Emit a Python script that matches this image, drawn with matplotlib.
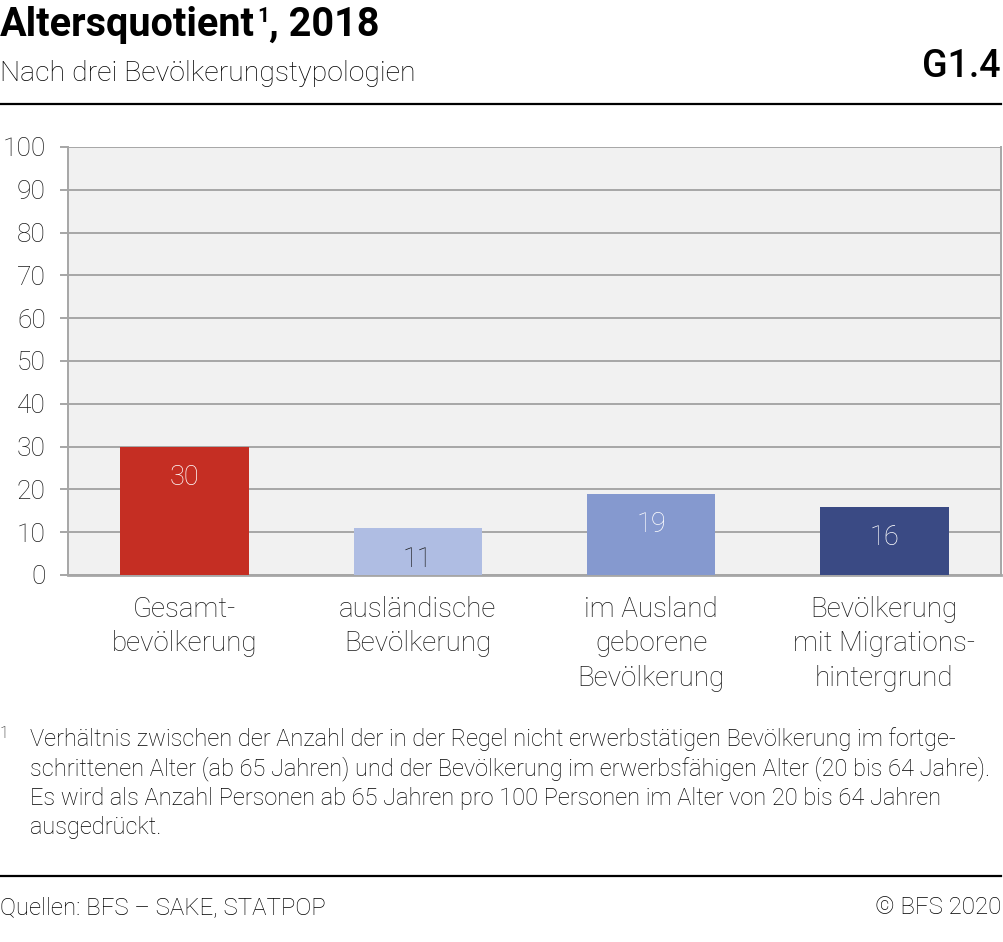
import matplotlib.pyplot as plt
import numpy as np

plt.rcParams['font.family'] = ['Roboto', 'DejaVu Sans']

categories = ["Gesamt-\nbevölkerung", "ausländische\nBevölkerung",
              "im Ausland\ngeborene\nBevölkerung", "Bevölkerung\nmit Migrations-\nhintergrund"]
values = [30, 11, 19, 16]
bar_colors = ["#c52e23", "#afbde3", "#8599cf", "#3a4a84"]
label_colors = ["white", "#1a1a1a", "white", "white"]
yticks = [0, 10, 20, 30, 40, 50, 60, 70, 80, 90, 100]

W, H = 1004, 942
fig = plt.figure(figsize=(W / 100, H / 100), dpi=100)
ax = fig.add_axes([68 / W, 1 - 575 / H, (1001 - 68) / W, (575 - 147) / H])

grey = "#a6a6a6"
ax.set_facecolor("#f1f1f1")
ax.set_ylim(0, 100)
ax.set_xlim(-0.5, len(values) - 0.5)
ax.set_yticks(yticks)
ax.yaxis.grid(True, color=grey, linewidth=1.4)
ax.set_axisbelow(True)
for s in ax.spines.values():
    s.set_color(grey)
    s.set_linewidth(1.4)
ax.spines['top'].set_visible(False)
ax.spines['bottom'].set_linewidth(2)
ax.tick_params(axis='y', length=6, width=1.4, color=grey, labelsize=19, pad=10,
               labelcolor="#1a1a1a")
for t in ax.get_yticklabels():
    t.set_fontweight('light')
ax.set_xticks(range(len(categories)))
ax.set_xticklabels(categories, fontsize=20, fontweight='light', color="#1a1a1a",
                   linespacing=1.35, va='top')
ax.tick_params(axis='x', length=0, pad=15)

x = np.arange(len(values))
bars = ax.bar(x, values, width=0.55, color=bar_colors, zorder=3)
for b, v, c in zip(bars, values, label_colors):
    ax.text(b.get_x() + b.get_width() / 2, v - 7.3, str(v), ha='center', va='center',
            fontsize=19.5, fontweight='light', color=c, zorder=4)

# header
title = fig.text(0, 1 - 36 / H, "Altersquotient", fontsize=28.5, fontweight='bold',
                 va='baseline', ha='left')
fig.canvas.draw()
tx = title.get_window_extent().x1 / W
fig.text(tx + 2 / W, 1 - 22 / H, "1", fontsize=15, fontweight='bold', va='baseline', ha='left')
fig.text(tx + 14 / W, 1 - 36 / H, ", 2018", fontsize=28.5, fontweight='bold',
         va='baseline', ha='left')
fig.text(0, 1 - 81 / H, "Nach drei Bevölkerungstypologien", fontsize=20.5,
         fontweight='light', va='baseline', ha='left')
fig.text(1001 / W, 1 - 77 / H, "G1.4", fontsize=27, fontweight='medium',
         va='baseline', ha='right')
fig.add_artist(plt.Line2D([0, 1001 / W], [1 - 104 / H] * 2, color='black', linewidth=1.6))

# footnote
fig.text(0, 1 - 726 / H, "1", fontsize=11.5, fontweight='light', va='top', ha='left')
footnote = ("Verhältnis zwischen der Anzahl der in der Regel nicht erwerbstätigen Bevölkerung im fortge-\n"
            "schrittenen Alter (ab 65 Jahren) und der Bevölkerung im erwerbsfähigen Alter (20 bis 64 Jahre).\n"
            "Es wird als Anzahl Personen ab 65 Jahren pro 100 Personen im Alter von 20 bis 64 Jahren\n"
            "ausgedrückt.")
fig.text(30 / W, 1 - 727 / H, footnote, fontsize=17, fontweight='light', va='top',
         ha='left', linespacing=1.31)

fig.add_artist(plt.Line2D([0, 1001 / W], [1 - 876 / H] * 2, color='black', linewidth=1.6))
fig.text(0, 1 - 896 / H, "Quellen: BFS – SAKE, STATPOP", fontsize=17.3, fontweight='light',
         va='top', ha='left')
fig.text(1001 / W, 1 - 896 / H, "© BFS 2020", fontsize=17.3, fontweight='light',
         va='top', ha='right')

fig.savefig("out.png", dpi=100)
